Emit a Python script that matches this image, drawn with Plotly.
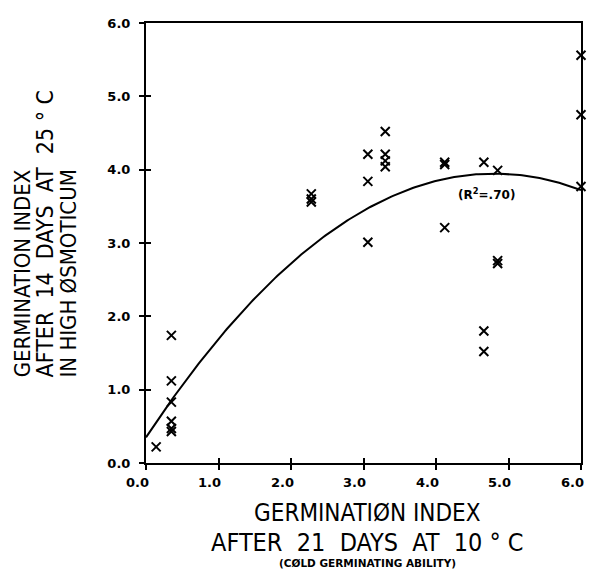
import numpy as np
import plotly.graph_objects as go

# ---- data ----
cold_index = [0.14,
              0.35, 0.35, 0.35, 0.35, 0.35, 0.35,
              2.28, 2.28, 2.28,
              3.06, 3.06, 3.06,
              3.30, 3.30, 3.30, 3.30,
              4.12, 4.12, 4.12,
              4.66, 4.66, 4.66,
              4.85, 4.85, 4.85,
              6.00, 6.00, 6.00]
osmoticum_index = [0.22,
                   1.74, 1.12, 0.83, 0.57, 0.47, 0.43,
                   3.67, 3.60, 3.56,
                   4.21, 3.84, 3.01,
                   4.52, 4.21, 4.12, 4.04,
                   4.10, 4.07, 3.21,
                   4.10, 1.80, 1.52,
                   3.99, 2.76, 2.72,
                   5.56, 4.75, 3.77]
# quadratic fit y = a + b x + c x^2
fit_coeffs = [0.35, 1.498, -0.156]
tick_vals = [0, 1, 2, 3, 4, 5, 6]
tick_text = ["0.0", "1.0", "2.0", "3.0", "4.0", "5.0", "6.0"]

fit_x = np.linspace(0, 6, 200)
fit_y = fit_coeffs[0] + fit_coeffs[1] * fit_x + fit_coeffs[2] * fit_x ** 2

fig = go.Figure()
fig.add_trace(go.Scatter(x=fit_x, y=fit_y, mode="lines",
                         line=dict(color="black", width=2), hoverinfo="skip"))
fig.add_trace(go.Scatter(x=cold_index, y=osmoticum_index, mode="markers",
                         marker=dict(symbol="x-thin", size=9,
                                     line=dict(color="black", width=2)),
                         cliponaxis=False))

tickfont = dict(family="DejaVu Sans", size=13, color="black", weight="bold")
axis_common = dict(range=[0, 6], tickvals=tick_vals, ticktext=tick_text,
                   showgrid=False, zeroline=False, showline=True,
                   linecolor="black", linewidth=2, mirror=True,
                   ticks="outside", ticklen=5, tickwidth=2, tickcolor="black",
                   tickfont=tickfont, ticklabeloverflow="allow",
                   automargin=False)
inner_ticks = dict(range=[0, 6], tickvals=tick_vals, ticks="inside", ticklen=5,
                   tickwidth=2, tickcolor="black", showticklabels=False,
                   showgrid=False, zeroline=False, showline=False,
                   automargin=False)
fig.update_layout(
    width=589, height=569,
    margin=dict(l=146, r=8, t=23, b=106, autoexpand=False),
    paper_bgcolor="white", plot_bgcolor="white",
    showlegend=False,
    xaxis=dict(**axis_common, showticklabels=False),
    yaxis=dict(**axis_common, ticklabelstandoff=6),
    xaxis2=dict(**inner_ticks, overlaying="x", anchor="y", side="bottom"),
    yaxis2=dict(**inner_ticks, overlaying="y", anchor="x", side="left"),
)
# invisible trace that activates the overlay axes (inner half of the crossing ticks)
fig.add_trace(go.Scatter(x=[0], y=[0], xaxis="x2", yaxis="y2", mode="markers",
                         marker=dict(opacity=0), showlegend=False, hoverinfo="skip"))

# x tick labels (slightly offset to the left, as in the reference)
for v, t in zip(tick_vals, tick_text):
    fig.add_annotation(text=t, x=v, xref="x", y=-0.044, yref="paper",
                       xanchor="center", yanchor="middle", xshift=-9,
                       showarrow=False, font=tickfont)

title_font = dict(family="DejaVu Sans Condensed, Liberation Sans Narrow, DejaVu Sans",
                  color="black")
NB = "\u00a0"


def spaced(words, gap, deg):
    return (NB * gap).join(words[:-1]) + NB * gap + words[-1] + NB * deg + "°" + NB * deg + "C"


# y-axis title (three rotated lines)
ylines = [("GERMINATION INDEX", -0.283, 22),
          (spaced(["AFTER", "14", "DAYS", "AT", "25"], 2, 1), -0.232, 23),
          ("IN HIGH ØSMOTICUM", -0.179, 22)]
for txt, px, sz in ylines:
    fig.add_annotation(text=txt, xref="paper", yref="paper", x=px, y=0.19,
                       xanchor="center", yanchor="bottom", textangle=-90,
                       showarrow=False, font=dict(**title_font, size=sz))
# x-axis title
xlines = [("GERMINATIØN INDEX", -0.114, 24),
          (spaced(["AFTER", "21", "DAYS", "AT", "10"], 2, 1), -0.181, 25)]
for txt, py, sz in xlines:
    fig.add_annotation(text=txt, xref="paper", yref="paper", x=0.51, y=py,
                       xanchor="center", yanchor="middle", showarrow=False,
                       font=dict(**title_font, size=sz))
fig.add_annotation(text="(CØLD GERMINATING ABILITY)", xref="paper", yref="paper",
                   x=0.51, y=-0.228, xanchor="center", yanchor="middle",
                   showarrow=False,
                   font=dict(family="DejaVu Sans", size=10.5, color="black", weight="bold"))
# R^2 label
fig.add_annotation(text="(R<sup>2</sup>=.70)", x=4.70, y=3.67, xref="x", yref="y",
                   showarrow=False,
                   font=dict(family="DejaVu Sans", size=12, color="black", weight="bold"))

fig.write_html("out.html")
